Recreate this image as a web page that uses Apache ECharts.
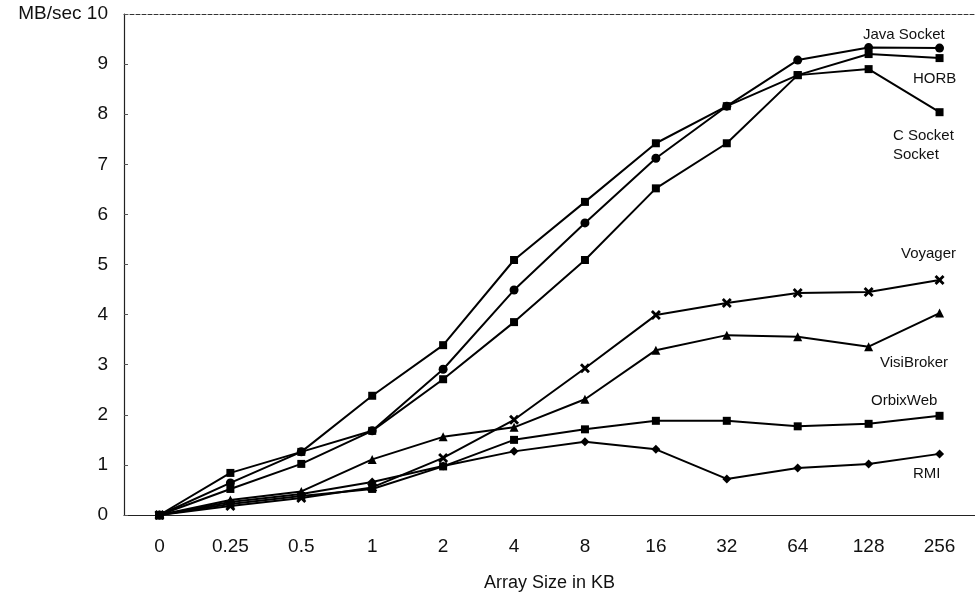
<!DOCTYPE html>
<html>
<head>
<meta charset="utf-8">
<title>MB/sec vs Array Size</title>
<script src="https://cdn.jsdelivr.net/npm/echarts@6/dist/echarts.min.js"></script>
<style>
  html, body { margin: 0; padding: 0; background: #fff; }
  .chart { width: 975px; height: 597px; }
</style>
</head>
<body>
<div class="line"><div class="chart"></div></div>
<script>
// x 轴类目 (KB)
var sizes = ['0', '0.25', '0.5', '1', '2', '4', '8', '16', '32', '64', '128', '256'];
var yTicks = [0, 1, 2, 3, 4, 5, 6, 7, 8, 9, 10];

// 各系列数据 (MB/sec)
var javaSocket = [0, 0.64, 1.26, 1.68, 2.91, 4.49, 5.83, 7.12, 8.16, 9.08, 9.33, 9.32];
var horb = [0, 0.52, 1.02, 1.68, 2.71, 3.85, 5.09, 6.52, 7.42, 8.78, 9.2, 9.12];
var cSocket = [0, 0.84, 1.26, 2.38, 3.39, 5.09, 6.25, 7.42, 8.16, 8.78, 8.9, 8.04];
var voyager = [0, 0.18, 0.34, 0.55, 1.14, 1.9, 2.93, 3.99, 4.23, 4.43, 4.45, 4.69];
var visiBroker = [0, 0.3, 0.47, 1.11, 1.56, 1.75, 2.31, 3.29, 3.59, 3.56, 3.36, 4.03];
var orbixWeb = [0, 0.22, 0.38, 0.52, 0.97, 1.5, 1.71, 1.88, 1.88, 1.77, 1.82, 1.98];
var rmi = [0, 0.26, 0.42, 0.66, 0.98, 1.27, 1.46, 1.31, 0.72, 0.94, 1.02, 1.22];

(function () {
  var chartDom = document.querySelector('.line .chart');
  var myChart = echarts.init(chartDom);
  var font = 'Liberation Sans, Arial, sans-serif';
  // X 形标记 (加粗)
  var cross = 'path://M0,2L2,0L5,3L8,0L10,2L7,5L10,8L8,10L5,7L2,10L0,8L3,5Z';

  function makeLine(name, data, symbol, size) {
    return {
      name: name,
      type: 'line',
      data: data,
      symbol: symbol,
      symbolSize: size,
      showAllSymbol: true,
      lineStyle: { color: '#000', width: 2 },
      itemStyle: { color: '#000' },
      animation: false
    };
  }

  // 右侧系列标注
  var notes = [
    { text: 'Java Socket', x: 863, y: 36 },
    { text: 'HORB', x: 913, y: 80 },
    { text: 'C Socket', x: 893, y: 137 },
    { text: 'Socket', x: 893, y: 156 },
    { text: 'Voyager', x: 901, y: 255 },
    { text: 'VisiBroker', x: 880, y: 364 },
    { text: 'OrbixWeb', x: 871, y: 402 },
    { text: 'RMI', x: 913, y: 475 }
  ];

  var option = {
    backgroundColor: '#fff',
    grid: {
      left: 124,
      top: 14,
      right: -6,
      bottom: 82
    },
    xAxis: [
      {
        type: 'category',
        data: sizes,
        name: 'Array Size in KB',
        nameLocation: 'middle',
        nameGap: 59,
        nameTextStyle: { color: '#111', fontSize: 18, fontFamily: font },
        axisLine: { lineStyle: { color: '#222', width: 1.2 } },
        axisTick: { show: false },
        axisLabel: { color: '#111', fontSize: 19, fontFamily: font, margin: 22 }
      },
      {
        // 顶部虚线边框
        type: 'category',
        data: sizes,
        position: 'top',
        axisLine: { lineStyle: { color: '#333', width: 1, type: [4, 2] } },
        axisTick: { show: false },
        axisLabel: { show: false }
      }
    ],
    yAxis: {
      type: 'value',
      min: yTicks[0],
      max: yTicks[yTicks.length - 1],
      interval: 1,
      axisLine: { show: true, lineStyle: { color: '#222', width: 1.2 } },
      axisTick: { show: true, inside: true, length: 4, lineStyle: { color: '#555' } },
      splitLine: { show: false },
      axisLabel: {
        color: '#111',
        fontSize: 19,
        fontFamily: font,
        margin: 16,
        formatter: function (v) {
          return v === 10 ? 'MB/sec 10' : String(v);
        }
      }
    },
    graphic: notes.map(function (n) {
      return {
        type: 'text',
        left: n.x,
        top: n.y - 9,
        style: {
          text: n.text,
          fill: '#111',
          font: '15px ' + font
        }
      };
    }),
    series: [
      makeLine('Java Socket', javaSocket, 'circle', 9),
      makeLine('HORB', horb, 'rect', 8),
      makeLine('C Socket', cSocket, 'rect', 8),
      makeLine('Voyager', voyager, cross, 10),
      makeLine('VisiBroker', visiBroker, 'triangle', 9),
      makeLine('OrbixWeb', orbixWeb, 'rect', 8),
      makeLine('RMI', rmi, 'diamond', 9)
    ]
  };

  option && myChart.setOption(option);
})();
</script>
</body>
</html>
